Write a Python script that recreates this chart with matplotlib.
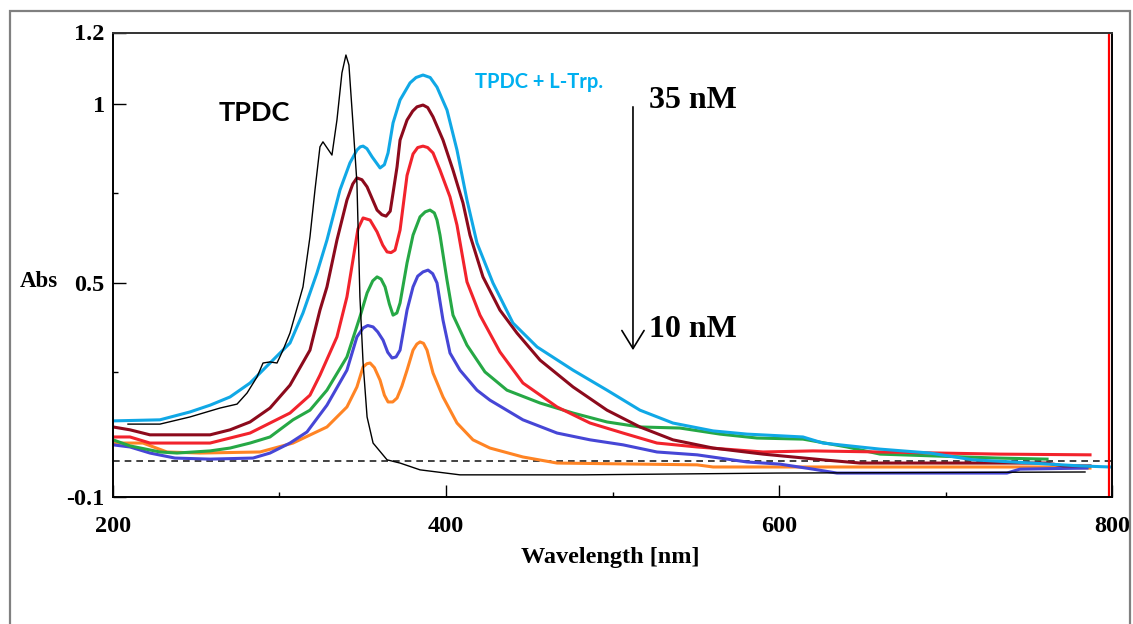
import matplotlib
matplotlib.use("Agg")
import matplotlib.pyplot as plt
from matplotlib.patches import Rectangle

# --- spectra (wavelength in nm, absorbance) ---
tpdc_nm = [209, 228.2, 246.2, 264.3, 274.5, 280.5, 286.5, 290.1, 294.3, 298.5, 302.1, 306.3,
           314.1, 318.3, 321.3, 324.3, 326.1, 331.5, 334.5, 337.5, 339.9, 341.7, 344.1, 346.5,
           348.3, 350.2, 352.6, 356.2, 364.6, 372.4, 384.4, 408.4, 482.3, 598.8, 783.8]
tpdc_abs = [0.104, 0.104, 0.124, 0.149, 0.160, 0.191, 0.236, 0.275, 0.278, 0.275, 0.311, 0.359,
            0.488, 0.628, 0.759, 0.880, 0.894, 0.857, 0.955, 1.087, 1.137, 1.109, 0.947, 0.779,
            0.460, 0.275, 0.124, 0.051, 0.004, -0.005, -0.024, -0.038, -0.038, -0.033, -0.030]

c35_nm = [200, 228.2, 246.2, 258.3, 270.3, 282.3, 294.3, 306.3, 314.1, 322.5, 328.5, 336.3,
          342.3, 346.5, 348.5, 350.2, 352.5, 355.6, 360.4, 363.0, 365.2, 368.2, 372.4, 378.4,
          382.0, 386.2, 390.5, 394.6, 400.6, 406.6, 412.6, 418.6, 428.2, 440.2, 454.7, 476.3,
          496.7, 516.5, 536.3, 560.4, 580.8, 614.4, 626.4, 660.7, 690.7, 716.5, 740.5, 780.8,
          798.8]
c35_abs = [0.113, 0.116, 0.138, 0.157, 0.180, 0.219, 0.275, 0.331, 0.415, 0.527, 0.619, 0.759,
           0.835, 0.871, 0.880, 0.882, 0.875, 0.852, 0.821, 0.830, 0.863, 0.947, 1.011, 1.059,
           1.074, 1.081, 1.074, 1.047, 0.983, 0.871, 0.731, 0.611, 0.499, 0.387, 0.320, 0.255,
           0.199, 0.143, 0.107, 0.085, 0.076, 0.068, 0.051, 0.034, 0.023, 0.004, -0.002, -0.013,
           -0.016]

c30_nm = [200, 210.2, 222.2, 258.3, 270.3, 282.3, 294.3, 306.3, 318.3, 324.3, 328.5, 334.5,
          340.5, 344.0, 346.5, 349.5, 352.6, 358.6, 361.5, 364.0, 366.5, 368.2, 370.6, 372.4,
          376.6, 380.0, 382.6, 386.2, 389.0, 392.2, 398.2, 404.2, 410.2, 414.4, 422.2, 432.4,
          442.6, 456.5, 476.3, 496.7, 516.5, 536.3, 560.4, 590.4, 626.4, 648.6, 761.0, 770.6,
          786.8]
c30_abs = [0.096, 0.088, 0.074, 0.074, 0.088, 0.110, 0.149, 0.213, 0.311, 0.423, 0.488, 0.619,
           0.731, 0.776, 0.793, 0.788, 0.768, 0.703, 0.690, 0.686, 0.700, 0.751, 0.824, 0.899,
           0.955, 0.980, 0.992, 0.997, 0.990, 0.964, 0.899, 0.815, 0.723, 0.633, 0.516, 0.423,
           0.359, 0.283, 0.208, 0.143, 0.096, 0.060, 0.037, 0.020, 0.004, -0.005, -0.005,
           -0.013, -0.013]

c25_nm = [200, 210.2, 222.2, 258.3, 270.3, 282.3, 294.3, 306.3, 318.3, 324.3, 334.5, 340.5,
          344.1, 347.1, 350.2, 354.4, 358.6, 362.0, 364.6, 367.0, 369.4, 372.4, 376.6, 380.2,
          383.0, 386.2, 389.0, 392.2, 396.4, 402.4, 406.6, 412.6, 420.4, 432.4, 446.2, 466.7,
          486.5, 506.3, 526.7, 550.8, 590.4, 620.4, 660.7, 732.7, 786.8]
c25_abs = [0.068, 0.068, 0.051, 0.051, 0.065, 0.079, 0.107, 0.135, 0.185, 0.241, 0.348, 0.460,
           0.563, 0.650, 0.681, 0.675, 0.642, 0.605, 0.586, 0.584, 0.591, 0.647, 0.800, 0.860,
           0.878, 0.882, 0.878, 0.863, 0.815, 0.740, 0.661, 0.502, 0.409, 0.306, 0.219, 0.152,
           0.107, 0.079, 0.051, 0.040, 0.026, 0.029, 0.026, 0.020, 0.018]

c20_nm = [200, 210.2, 228.2, 238.4, 258.3, 270.3, 282.3, 294.3, 308.1, 318.3, 328.5, 340.5,
          348.3, 352.6, 356.0, 358.6, 361.0, 363.4, 366.0, 368.2, 370.5, 372.4, 376.6, 380.2,
          384.4, 387.5, 390.4, 393.0, 394.6, 396.4, 400.6, 404.2, 412.6, 423.4, 436.6, 456.5,
          476.3, 496.7, 516.5, 540.5, 564.6, 586.8, 614.4, 640.8, 660.7, 730.9, 761.0]
c20_abs = [0.060, 0.043, 0.026, 0.023, 0.029, 0.037, 0.051, 0.068, 0.116, 0.143, 0.199, 0.292,
           0.404, 0.471, 0.505, 0.516, 0.510, 0.488, 0.440, 0.409, 0.415, 0.443, 0.555, 0.633,
           0.684, 0.698, 0.703, 0.695, 0.675, 0.633, 0.507, 0.409, 0.325, 0.250, 0.199, 0.163,
           0.135, 0.110, 0.096, 0.093, 0.076, 0.065, 0.062, 0.040, 0.020, 0.009, 0.006]

c15_nm = [200, 210.2, 222.2, 237.2, 258.3, 284.1, 294.3, 306.3, 316.5, 328.5, 340.5, 346.5,
          350.2, 353.0, 356.2, 359.0, 362.2, 365.0, 367.6, 370.0, 372.4, 376.6, 380.2, 383.0,
          386.2, 389.2, 392.0, 394.6, 398.2, 402.4, 408.4, 418.6, 426.4, 446.2, 466.7, 486.5,
          506.3, 526.7, 550.8, 580.8, 600.6, 620.4, 634.8, 736.9, 744.7, 785.0]
c15_abs = [0.046, 0.040, 0.023, 0.009, 0.006, 0.009, 0.023, 0.051, 0.082, 0.157, 0.255, 0.348,
           0.373, 0.380, 0.376, 0.362, 0.339, 0.305, 0.289, 0.292, 0.311, 0.423, 0.488, 0.518,
           0.530, 0.535, 0.525, 0.499, 0.395, 0.303, 0.255, 0.199, 0.171, 0.116, 0.079, 0.060,
           0.046, 0.026, 0.018, -0.002, -0.008, -0.022, -0.033, -0.033, -0.022, -0.019]

c10_nm = [200, 218.0, 232.4, 252.3, 288.3, 308.1, 328.5, 340.5, 346.5, 350.2, 352.5, 354.4,
          357.0, 360.4, 363.0, 365.2, 368.0, 370.6, 373.5, 376.6, 380.2, 382.5, 384.4, 386.5,
          388.6, 392.2, 398.2, 406.6, 416.2, 426.4, 446.2, 466.7, 550.8, 560.4, 767.0, 786.8]
c10_abs = [0.051, 0.051, 0.026, 0.023, 0.026, 0.051, 0.096, 0.152, 0.208, 0.264, 0.273, 0.275,
           0.262, 0.227, 0.185, 0.166, 0.166, 0.177, 0.210, 0.255, 0.311, 0.328, 0.334, 0.330,
           0.311, 0.247, 0.180, 0.107, 0.060, 0.037, 0.012, -0.005, -0.010, -0.016, -0.016,
           -0.019]

cursor_nm = 798

fig = plt.figure(figsize=(11.33, 6.24), dpi=100)
ax = fig.add_axes([113 / 1133, 127 / 624, 999 / 1133, 464.5 / 624])

lw = 2.2
ax.axhline(0, color="#222222", lw=1.2, ls=(0, (4, 3)), zorder=1)
ax.plot(c10_nm, c10_abs, color="#FF8424", lw=lw)
ax.plot(c15_nm, c15_abs, color="#4646D6", lw=lw)
ax.plot(c20_nm, c20_abs, color="#26A845", lw=lw)
ax.plot(c25_nm, c25_abs, color="#F2232C", lw=lw)
ax.plot(c30_nm, c30_abs, color="#8C0A1C", lw=lw)
ax.plot(c35_nm, c35_abs, color="#10A8E6", lw=lw)
ax.plot(tpdc_nm, tpdc_abs, color="black", lw=1.0)
ax.axvline(cursor_nm, color="red", lw=1.6)

ax.set_xlim(200, 800)
ax.set_ylim(-0.1, 1.2)

ax.set_xticks([200, 400, 600, 800])
ax.set_xticks([300, 500, 700], minor=True)
ax.set_yticks([-0.1, 0.5, 1, 1.2])
ax.set_yticklabels(["-0.1", "0.5", "1", "1.2"])
ax.set_yticks([0.25, 0.75], minor=True)
ax.tick_params(which="both", direction="in", width=1.0, colors="black")
ax.tick_params(which="major", length=9)
ax.tick_params(which="minor", length=3.6)
ax.tick_params(axis="x", pad=13.5)
ax.tick_params(axis="y", pad=6)
for lab in ax.get_xticklabels() + ax.get_yticklabels():
    lab.set_family("Liberation Serif")
    lab.set_weight("bold")
    lab.set_fontsize(17.5)

for side in ["left", "bottom", "right"]:
    ax.spines[side].set_linewidth(1.4)
    ax.spines[side].set_color("black")
ax.spines["top"].set_linewidth(1.4)
ax.spines["top"].set_color("#333333")

ax.set_xlabel("Wavelength [nm]", family="Liberation Serif", weight="bold", fontsize=17.5,
              va="top")
ax.xaxis.set_label_coords(0.4975, -0.1076)
ax.set_ylabel("Abs", family="Liberation Serif", weight="bold", fontsize=16.5,
              rotation=0, ha="center", va="center")
ax.yaxis.set_label_coords(-0.074, 0.465)

# annotations
ax.text(285, 0.975, "TPDC", family="Lato", weight="bold", fontsize=19.5,
        ha="center", va="center")
ax.text(417.4, 1.045, "TPDC + L-Trp.", family="Lato", weight="bold", fontsize=14.5,
        color="#00B0F0", ha="left", va="baseline")
ax.text(521.9, 0.989, "35 nM", family="Liberation Serif", weight="bold", fontsize=23,
        ha="left", va="baseline")
ax.text(521.9, 0.348, "10 nM", family="Liberation Serif", weight="bold", fontsize=23,
        ha="left", va="baseline")
ax.annotate("", xy=(512.3, 0.311), xytext=(512.3, 0.992),
            arrowprops=dict(arrowstyle="->,head_length=0.65,head_width=0.4",
                            lw=1.2, color="black", mutation_scale=20,
                            shrinkA=0, shrinkB=0))

# frame around the whole figure
fig.add_artist(Rectangle((10 / 1133, -0.05), 1120 / 1133, (613 / 624) + 0.05,
                         transform=fig.transFigure, fill=False, ec="#808080", lw=1.6))

fig.savefig("out.png", dpi=100)
